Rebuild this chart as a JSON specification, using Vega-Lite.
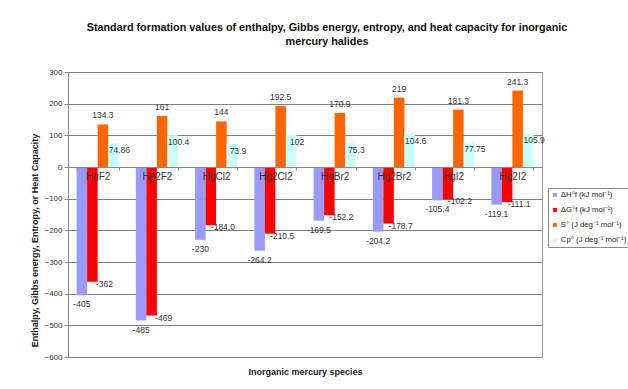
{
  "$schema": "https://vega.github.io/schema/vega-lite/v6.json",
  "width": 474,
  "height": 285,
  "autosize": {"type": "none"},
  "padding": {"left": 68, "top": 72, "right": 86, "bottom": 32},
  "background": "white",
  "config": {
    "font": "Liberation Sans",
    "view": {"stroke": "#9a9a9a", "strokeWidth": 1}
  },
  "title": {
    "text": ["Standard formation values of enthalpy, Gibbs energy, entropy, and heat capacity for inorganic", "mercury halides"],
    "fontSize": 10.8,
    "fontWeight": "bold",
    "color": "#111111",
    "anchor": "middle",
    "offset": 21,
    "dx": 22,
    "lineHeight": 14
  },
  "data": {
    "values": [
      {"species": "HgF2", "series": "ΔH°f (kJ mol⁻¹)", "value": -405, "label": "-405"},
      {"species": "HgF2", "series": "ΔG°f (kJ mol⁻¹)", "value": -362, "label": "-362"},
      {"species": "HgF2", "series": "S° (J deg⁻¹ mol⁻¹)", "value": 134.3, "label": "134.3"},
      {"species": "HgF2", "series": "Cp° (J deg⁻¹ mol⁻¹)", "value": 74.86, "label": "74.86"},
      {"species": "Hg2F2", "series": "ΔH°f (kJ mol⁻¹)", "value": -485, "label": "-485"},
      {"species": "Hg2F2", "series": "ΔG°f (kJ mol⁻¹)", "value": -469, "label": "-469"},
      {"species": "Hg2F2", "series": "S° (J deg⁻¹ mol⁻¹)", "value": 161, "label": "161"},
      {"species": "Hg2F2", "series": "Cp° (J deg⁻¹ mol⁻¹)", "value": 100.4, "label": "100.4"},
      {"species": "HgCl2", "series": "ΔH°f (kJ mol⁻¹)", "value": -230, "label": "-230"},
      {"species": "HgCl2", "series": "ΔG°f (kJ mol⁻¹)", "value": -184.0, "label": "-184.0"},
      {"species": "HgCl2", "series": "S° (J deg⁻¹ mol⁻¹)", "value": 144, "label": "144"},
      {"species": "HgCl2", "series": "Cp° (J deg⁻¹ mol⁻¹)", "value": 73.9, "label": "73.9"},
      {"species": "Hg2Cl2", "series": "ΔH°f (kJ mol⁻¹)", "value": -264.2, "label": "-264.2"},
      {"species": "Hg2Cl2", "series": "ΔG°f (kJ mol⁻¹)", "value": -210.5, "label": "-210.5"},
      {"species": "Hg2Cl2", "series": "S° (J deg⁻¹ mol⁻¹)", "value": 192.5, "label": "192.5"},
      {"species": "Hg2Cl2", "series": "Cp° (J deg⁻¹ mol⁻¹)", "value": 102, "label": "102"},
      {"species": "HgBr2", "series": "ΔH°f (kJ mol⁻¹)", "value": -169.5, "label": "-169.5"},
      {"species": "HgBr2", "series": "ΔG°f (kJ mol⁻¹)", "value": -152.2, "label": "-152.2"},
      {"species": "HgBr2", "series": "S° (J deg⁻¹ mol⁻¹)", "value": 170.9, "label": "170.9"},
      {"species": "HgBr2", "series": "Cp° (J deg⁻¹ mol⁻¹)", "value": 75.3, "label": "75.3"},
      {"species": "Hg2Br2", "series": "ΔH°f (kJ mol⁻¹)", "value": -204.2, "label": "-204.2"},
      {"species": "Hg2Br2", "series": "ΔG°f (kJ mol⁻¹)", "value": -178.7, "label": "-178.7"},
      {"species": "Hg2Br2", "series": "S° (J deg⁻¹ mol⁻¹)", "value": 219, "label": "219"},
      {"species": "Hg2Br2", "series": "Cp° (J deg⁻¹ mol⁻¹)", "value": 104.6, "label": "104.6"},
      {"species": "HgI2", "series": "ΔH°f (kJ mol⁻¹)", "value": -105.4, "label": "-105.4"},
      {"species": "HgI2", "series": "ΔG°f (kJ mol⁻¹)", "value": -102.2, "label": "-102.2"},
      {"species": "HgI2", "series": "S° (J deg⁻¹ mol⁻¹)", "value": 181.3, "label": "181.3"},
      {"species": "HgI2", "series": "Cp° (J deg⁻¹ mol⁻¹)", "value": 77.75, "label": "77.75"},
      {"species": "Hg2I2", "series": "ΔH°f (kJ mol⁻¹)", "value": -119.1, "label": "-119.1"},
      {"species": "Hg2I2", "series": "ΔG°f (kJ mol⁻¹)", "value": -111.1, "label": "-111.1"},
      {"species": "Hg2I2", "series": "S° (J deg⁻¹ mol⁻¹)", "value": 241.3, "label": "241.3"},
      {"species": "Hg2I2", "series": "Cp° (J deg⁻¹ mol⁻¹)", "value": 105.9, "label": "105.9"}
    ]
  },
  "encoding": {
    "x": {
      "field": "species",
      "type": "nominal",
      "sort": ["HgF2", "Hg2F2", "HgCl2", "Hg2Cl2", "HgBr2", "Hg2Br2", "HgI2", "Hg2I2"],
      "scale": {"paddingInner": 0.29, "paddingOuter": 0.145},
      "axis": {
        "offset": -190,
        "zindex": 1,
        "labelAngle": 0,
        "labelFontSize": 10,
        "labelColor": "#333333",
        "labelPadding": 1,
        "tickBand": "extent",
        "tickSize": 3,
        "tickColor": "#888888",
        "domainColor": "#888888",
        "title": "Inorganic mercury species",
        "titleFontSize": 9,
        "titleFontWeight": "bold",
        "titleColor": "#222222",
        "titleY": 200,
        "titleBaseline": "top"
      }
    },
    "xOffset": {
      "field": "series",
      "sort": ["ΔH°f (kJ mol⁻¹)", "ΔG°f (kJ mol⁻¹)", "S° (J deg⁻¹ mol⁻¹)", "Cp° (J deg⁻¹ mol⁻¹)"],
      "scale": {"paddingInner": 0, "paddingOuter": 0}
    },
    "y": {
      "field": "value",
      "type": "quantitative",
      "scale": {"domain": [-600, 300], "nice": false},
      "axis": {
        "values": [-600, -500, -400, -300, -200, -100, 0, 100, 200, 300],
        "labelFontSize": 8,
        "labelColor": "#333333",
        "labelPadding": 2,
        "tickSize": 4,
        "tickColor": "#888888",
        "domainColor": "#888888",
        "gridColor": "#808080",
        "gridWidth": 1,
        "title": "Enthalpy, Gibbs energy, Entropy, or Heat Capacity",
        "titleFontSize": 9,
        "titleFontWeight": "bold",
        "titleColor": "#222222",
        "titleX": -29,
        "titleY": 168
      }
    }
  },
  "layer": [
    {
      "mark": {"type": "bar"},
      "encoding": {
        "color": {
          "field": "series",
          "type": "nominal",
          "sort": ["ΔH°f (kJ mol⁻¹)", "ΔG°f (kJ mol⁻¹)", "S° (J deg⁻¹ mol⁻¹)", "Cp° (J deg⁻¹ mol⁻¹)"],
          "scale": {"range": ["#9999ff", "#ff0000", "#ff6600", "#ccffff"]},
          "legend": {
            "title": null,
            "orient": "none",
            "legendX": 480,
            "legendY": 116,
            "strokeColor": "#888888",
            "fillColor": "white",
            "padding": 3,
            "symbolType": "square",
            "symbolSize": 16,
            "symbolStrokeWidth": 0,
            "labelFontSize": 7.8,
            "labelColor": "#222222",
            "rowPadding": 6,
            "labelOffset": 2
          }
        }
      }
    },
    {
      "transform": [{"filter": "datum.series === 'ΔH°f (kJ mol⁻¹)'"}],
      "mark": {"type": "text", "fontSize": 8.5, "color": "#333333", "dy": 9, "baseline": "middle", "align": "center"},
      "encoding": {"text": {"field": "label"}}
    },
    {
      "transform": [{"filter": "datum.series === 'ΔG°f (kJ mol⁻¹)'"}],
      "mark": {"type": "text", "fontSize": 8.5, "color": "#333333", "dx": 12, "dy": 2, "baseline": "middle", "align": "center"},
      "encoding": {"text": {"field": "label"}}
    },
    {
      "transform": [{"filter": "datum.series === 'S° (J deg⁻¹ mol⁻¹)'"}],
      "mark": {"type": "text", "fontSize": 8.5, "color": "#333333", "dy": -9, "baseline": "middle", "align": "center"},
      "encoding": {"text": {"field": "label"}}
    },
    {
      "transform": [{"filter": "datum.series === 'Cp° (J deg⁻¹ mol⁻¹)'"}],
      "mark": {"type": "text", "fontSize": 8.5, "color": "#333333", "dx": 6, "dy": 7, "baseline": "middle", "align": "center"},
      "encoding": {"text": {"field": "label"}}
    }
  ]
}
